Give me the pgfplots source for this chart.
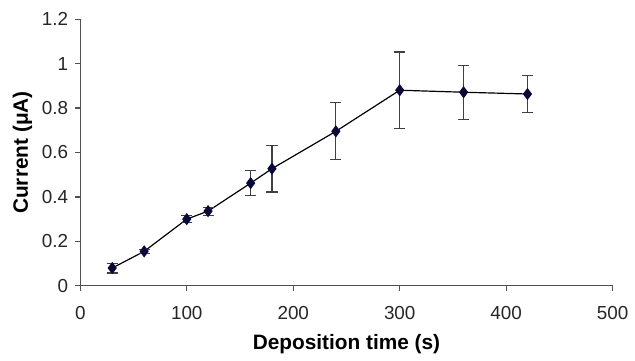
\documentclass[border=0pt]{standalone}
\usepackage{pgfplots}
\pgfplotsset{compat=1.18}
\usepackage{fontspec}
\setmainfont{Liberation Sans}
\definecolor{markc}{HTML}{0A0A3A}
\definecolor{axc}{HTML}{505050}
\begin{document}
\begin{tikzpicture}
\begin{axis}[
  scale only axis,
  width=268.5pt, height=134.5pt,
  xmin=0, xmax=500, ymin=0, ymax=1.2,
  xtick={0,100,...,500},
  ytick={0,0.2,...,1.2},
  yticklabels={0,0.2,0.4,0.6,0.8,1,1.2},
  axis x line*=bottom, axis y line*=left,
  axis line style={axc, line width=0.6pt, -},
  tick style={axc, line width=0.6pt},
  tick align=outside,
  major tick length=2.6pt,
  ticklabel style={font=\fontsize{9.5}{11}\selectfont, color=black!85},
  xticklabel style={yshift=-4pt},
  /pgf/number format/assume math mode=true,
  xlabel={\bfseries Deposition time (s)},
  ylabel={\bfseries Current (μA)},
  label style={font=\fontsize{10.5}{12}\selectfont},
  xlabel style={yshift=-1pt},
  ylabel style={yshift=-2pt},
  clip=false,
]
\addplot[black, line width=0.6pt,
  mark=diamond*, mark size=2.6pt,
  mark options={draw=markc, fill=markc},
  error bars/.cd, y dir=both, y explicit,
  error bar style={black!75, line width=0.6pt},
  error mark options={rotate=90, mark size=2.8pt, black!75, line width=0.6pt}]
table[x=x, y=y, y error=e] {
x   y     e
30  0.080 0.022
60  0.155 0.010
100 0.300 0.015
120 0.336 0.018
160 0.462 0.057
180 0.527 0.105
240 0.695 0.128
300 0.880 0.172
360 0.871 0.121
420 0.863 0.085
};
\path (axis cs:-75.4,-0.299) rectangle (axis cs:515.8,1.286);
\end{axis}
\end{tikzpicture}
\end{document}
